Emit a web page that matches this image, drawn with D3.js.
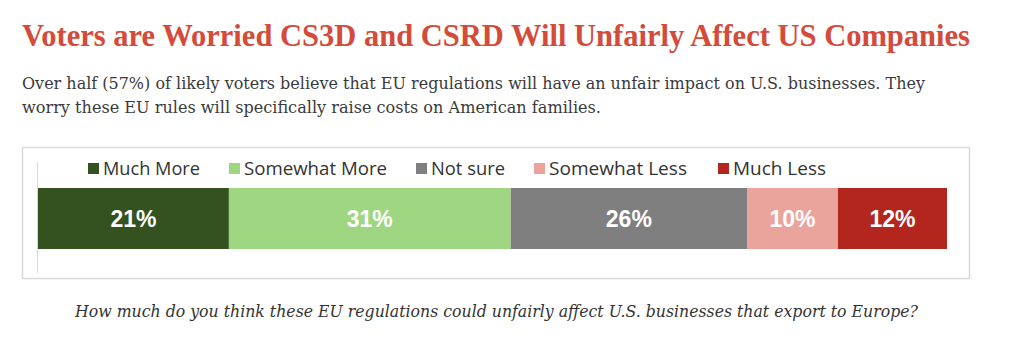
<!DOCTYPE html>
<html lang="en">
  <head>
    <meta charset="utf-8" />
    <script src="https://cdn.jsdelivr.net/npm/d3@7/dist/d3.min.js"></script>
    <style>
      body { margin: 0; background: #fff; }
      .title { font-family: "Liberation Serif", serif; font-weight: bold; fill: #d44b3b; }
      .sub { font-family: "DejaVu Serif", serif; fill: #3a3a3a; }
      .foot { font-family: "DejaVu Serif", serif; font-style: italic; fill: #333; }
      .legend text { font-family: "Open Sans", sans-serif; fill: #333; }
      .lbl { font-family: "Liberation Sans", Arial, sans-serif; font-weight: bold; fill: #fff; }
    </style>
  </head>
  <body>
    <div id="container"></div>
    <script>
      const width = 1024;
      const height = 342;

      const categories = ["Much More", "Somewhat More", "Not sure", "Somewhat Less", "Much Less"];
      const values = [21, 31, 26, 10, 12];
      const colors = ["#33521f", "#9fd681", "#7f7f7f", "#eba49b", "#b2261d"];

      const svg = d3.select("#container").append("svg").attr("width", width).attr("height", height);

      // heading
      svg.append("text").attr("class", "title").attr("x", 22).attr("y", 46)
        .attr("font-size", 30.5).attr("textLength", 948).attr("lengthAdjust", "spacingAndGlyphs")
        .text("Voters are Worried CS3D and CSRD Will Unfairly Affect US Companies");
      svg.append("text").attr("class", "sub").attr("x", 22).attr("y", 89)
        .attr("font-size", 17).attr("textLength", 903).attr("lengthAdjust", "spacingAndGlyphs")
        .text("Over half (57%) of likely voters believe that EU regulations will have an unfair impact on U.S. businesses. They");
      svg.append("text").attr("class", "sub").attr("x", 22).attr("y", 113)
        .attr("font-size", 17).attr("textLength", 579).attr("lengthAdjust", "spacingAndGlyphs")
        .text("worry these EU rules will specifically raise costs on American families.");

      // chart frame
      svg.append("rect").attr("x", 22.5).attr("y", 147.5).attr("width", 947).attr("height", 131)
        .attr("fill", "none").attr("stroke", "#d9d9d9").attr("stroke-width", 1.5);
      svg.append("line").attr("x1", 37.5).attr("x2", 37.5).attr("y1", 162).attr("y2", 273)
        .attr("stroke", "#d9d9d9").attr("stroke-width", 1);

      const x = d3.scaleLinear().domain([0, d3.sum(values)]).range([38, 947]);
      const starts = d3.cumsum([0, ...values]).slice(0, values.length);
      const data = categories.map((c, i) => ({ c, v: values[i], s: starts[i], col: colors[i] }));

      const barY = 188, barH = 61;
      svg.append("g").selectAll("rect").data(data).enter().append("rect")
        .attr("x", (d) => x(d.s)).attr("y", barY)
        .attr("width", (d) => x(d.s + d.v) - x(d.s)).attr("height", barH)
        .attr("fill", (d) => d.col);

      svg.append("g").selectAll("text").data(data).enter().append("text").attr("class", "lbl")
        .attr("x", (d) => x(d.s + d.v / 2)).attr("y", barY + barH / 2 + 8)
        .attr("text-anchor", "middle").attr("font-size", 23)
        .text((d) => d.v + "%");

      // legend
      const legX = [88, 229, 416, 534, 718];
      const legW = [97, 143, 74, 138, 93];
      const leg = svg.append("g").attr("class", "legend").selectAll("g").data(data).enter().append("g")
        .attr("transform", (d, i) => `translate(${legX[i]},169)`);
      leg.append("rect").attr("x", 0).attr("y", -6).attr("width", 11).attr("height", 11).attr("fill", (d) => d.col);
      leg.append("text").attr("x", 15).attr("y", 6).attr("font-size", 18)
        .attr("textLength", (d, i) => legW[i]).attr("lengthAdjust", "spacingAndGlyphs")
        .text((d) => d.c);

      // question
      svg.append("text").attr("class", "foot").attr("x", 75).attr("y", 317)
        .attr("font-size", 17).attr("textLength", 843).attr("lengthAdjust", "spacingAndGlyphs")
        .text("How much do you think these EU regulations could unfairly affect U.S. businesses that export to Europe?");
    </script>
  </body>
</html>
